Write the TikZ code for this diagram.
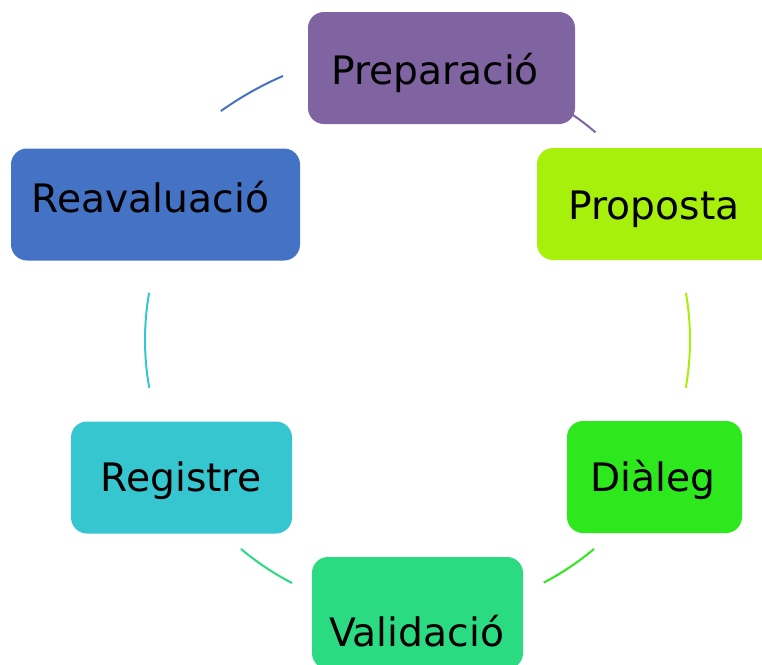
\documentclass[tikz,border=0pt]{standalone}
\usepackage{fontspec}
\setmainfont{DejaVu Sans}
\usepackage{xcolor}
\usepackage{tikz}

\definecolor{prepcol}{RGB}{128,100,162}
\definecolor{propcol}{RGB}{166,240,12}
\definecolor{dialcol}{RGB}{45,232,28}
\definecolor{validcol}{RGB}{42,219,130}
\definecolor{regcol}{RGB}{54,198,208}
\definecolor{reavcol}{RGB}{68,114,196}

\begin{document}
\begin{tikzpicture}[x=0.75pt, y=-0.75pt,
    box/.style={rectangle, rounded corners=12pt, minimum height=84pt, inner sep=0pt},
    lbl/.style={anchor=base, inner sep=0pt, text=black, font=\fontsize{29.4}{34}\selectfont},
    arcline/.style={line width=1.5pt}]
   \useasboundingbox (0,0) rectangle (762,664);
   \clip (0,0) rectangle (762,664);

   \node[box, fill=prepcol, minimum width=200.25pt] (P) at (441.5,68) {};
   \node[box, fill=propcol, minimum width=180pt] (Q) at (657,204) {};
   \node[box, fill=dialcol, minimum width=131.25pt] (D) at (654.5,477) {};
   \node[box, fill=validcol, minimum width=158.25pt] (V) at (417.5,613) {};
   \node[box, fill=regcol, minimum width=165.75pt] (R) at (181.5,477.5) {};
   \node[box, fill=reavcol, minimum width=216.75pt] (A) at (155.5,204.5) {};

   \node[lbl] (Pt) at (435,84.5) {Preparació};
   \node[lbl] (Qt) at (654,219) {Proposta};
   \node[lbl] (Dt) at (652.5,491.5) {Diàleg};
   \node[lbl] (Vt) at (416.5,646.5) {Validació};
   \node[lbl] (Rt) at (181,491.5) {Registre};
   \node[lbl] (At) at (150.5,212.5) {Reavaluació};

   % arcs of the cycle
   \coordinate (O) at (417.5,340);
   \coordinate (O2) at (417.5,386.7);
   \draw[arcline, prepcol] (O) ++(-55.8:273.5) arc[start angle=-55.8, end angle=-49.4, radius=273.5];
   \draw[arcline, propcol] (O) ++(-9.9:272.5) arc[start angle=-9.9, end angle=10.1, radius=272.5];
   \draw[arcline, dialcol] (O) ++(49.8:273.5) arc[start angle=49.8, end angle=62.5, radius=273.5];
   \draw[arcline, validcol] (O) ++(117.3:273.5) arc[start angle=117.3, end angle=130.2, radius=273.5];
   \draw[arcline, regcol] (O) ++(169.9:272.5) arc[start angle=169.9, end angle=190, radius=272.5];
   \draw[arcline, reavcol] (O2) ++(234.5:338.6) arc[start angle=234.5, end angle=246.6, radius=338.6];
\end{tikzpicture}
\end{document}
